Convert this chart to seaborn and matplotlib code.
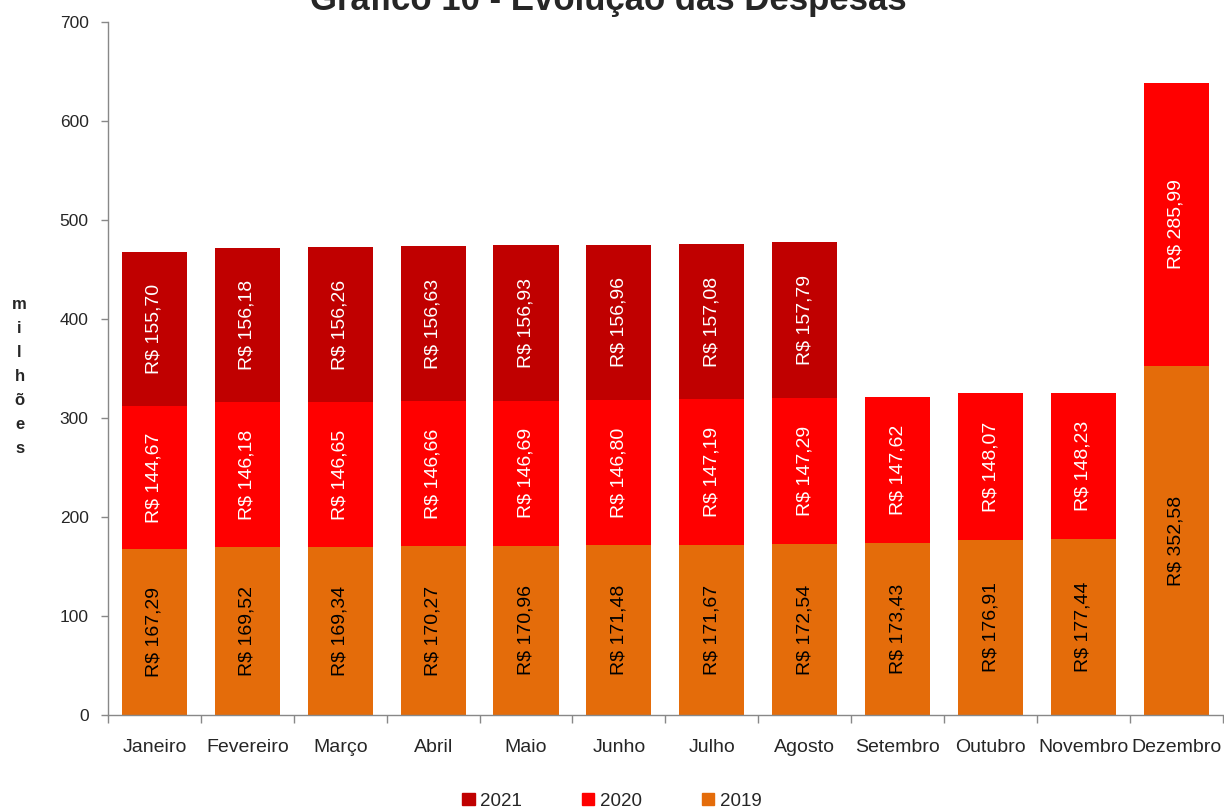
import pandas as pd
import numpy as np
from matplotlib import pyplot as plt
from matplotlib.patches import Patch
import seaborn as sns

meses = ['Janeiro', 'Fevereiro', 'Março', 'Abril', 'Maio', 'Junho', 'Julho',
         'Agosto', 'Setembro', 'Outubro', 'Novembro', 'Dezembro']
despesas_2019 = [167.29, 169.52, 169.34, 170.27, 170.96, 171.48, 171.67,
                 172.54, 173.43, 176.91, 177.44, 352.58]
despesas_2020 = [144.67, 146.18, 146.65, 146.66, 146.69, 146.80, 147.19,
                 147.29, 147.62, 148.07, 148.23, 285.99]
despesas_2021 = [155.70, 156.18, 156.26, 156.63, 156.93, 156.96, 157.08,
                 157.79, None, None, None, None]

cores = {'2019': '#E46C0A', '2020': '#FF0000', '2021': '#C00000'}
cor_texto = {'2019': 'black', '2020': 'white', '2021': 'white'}

sns.set_style('white')
plt.rcParams['font.family'] = ['Liberation Sans', 'DejaVu Sans']

df = pd.DataFrame({'Mês': meses, '2019': despesas_2019,
                   '2020': despesas_2020, '2021': despesas_2021})
df['2021'] = df['2021'].astype(float)
df['ate_2019'] = df['2019']
df['ate_2020'] = df['2019'] + df['2020']
df['ate_2021'] = df['ate_2020'] + df['2021']

fig = plt.figure(figsize=(12.24, 8.1), dpi=100)
ax = fig.add_axes([0.0882, 0.1173, 0.9108, 0.8555])

# barras empilhadas: desenhar do total para baixo
largura = 0.70
d21 = df.dropna(subset=['ate_2021'])
sns.barplot(data=d21, x='Mês', y='ate_2021', order=meses, color=cores['2021'],
            saturation=1, width=largura, linewidth=0, ax=ax)
sns.barplot(data=df, x='Mês', y='ate_2020', order=meses, color=cores['2020'],
            saturation=1, width=largura, linewidth=0, ax=ax)
sns.barplot(data=df, x='Mês', y='ate_2019', order=meses, color=cores['2019'],
            saturation=1, width=largura, linewidth=0, ax=ax)

# rótulos dos valores
for i, linha in df.iterrows():
    base = 0
    for ano in ['2019', '2020', '2021']:
        v = linha[ano]
        if pd.isna(v):
            continue
        rotulo = 'R$ ' + f'{v:.2f}'.replace('.', ',')
        ax.text(i, base + v / 2, rotulo, rotation=90, ha='center', va='center',
                fontsize=14, color=cor_texto[ano])
        base += v

ax.set_ylim(0, 700)
ax.set_yticks(range(0, 701, 100))
ax.set_xlim(-0.5, 11.5)
ax.set_xlabel('')
ax.set_ylabel('')
ax.set_xticks(np.arange(-0.5, 12, 1), minor=True)
ax.tick_params(axis='x', which='major', length=0, pad=17, labelsize=14)
ax.tick_params(axis='x', which='minor', length=6, width=1, color='#888888',
               direction='out', bottom=True)
ax.tick_params(axis='y', length=5, width=1, color='#888888', direction='out',
               left=True, pad=9, labelsize=12.5)
for lado in ['top', 'right']:
    ax.spines[lado].set_visible(False)
for lado in ['left', 'bottom']:
    ax.spines[lado].set_color('#888888')
    ax.spines[lado].set_linewidth(1)

fig.text(0.497, 0.988, 'Gráfico 10 - Evolução das Despesas', ha='center',
         va='baseline', fontsize=25, fontweight='bold')
fig.text(0.016, 0.535, '\n'.join('milhões'), ha='center', va='center',
         fontsize=12, fontweight='bold', linespacing=1.75)

handles = [Patch(color=cores[a], label=a) for a in ['2021', '2020', '2019']]
fig.legend(handles=handles, loc='center', bbox_to_anchor=(0.5, 1 - 801 / 810),
           ncol=3, frameon=False, fontsize=13.5, handlelength=0.65,
           handleheight=0.65, handletextpad=0.3, columnspacing=3.2,
           borderaxespad=0)

plt.savefig('out.png', dpi=100)
